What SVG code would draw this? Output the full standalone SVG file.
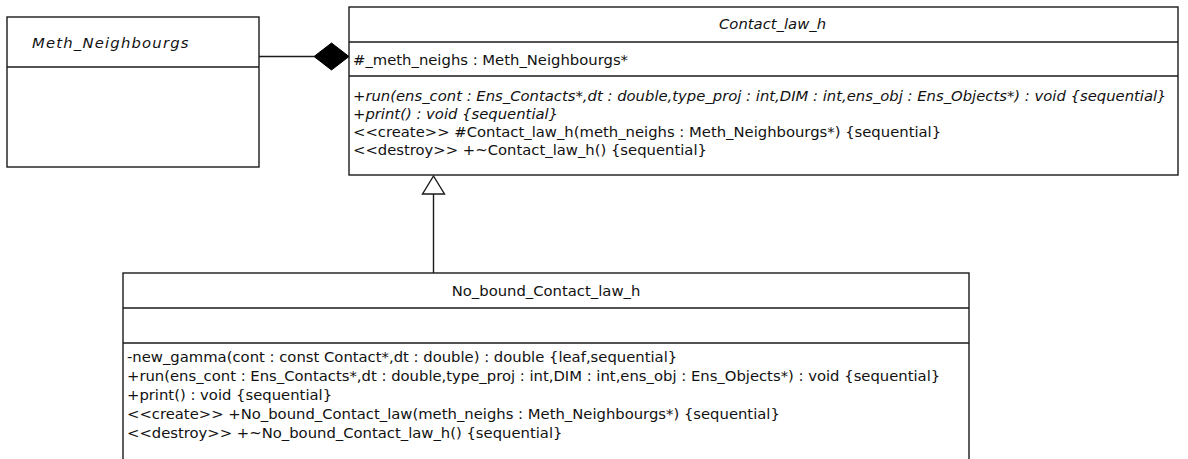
<svg xmlns="http://www.w3.org/2000/svg" width="1188" height="459" viewBox="0 0 1188 459">
<style>
.box{fill:#fff;stroke:#1a1a1a;stroke-width:1.4}
.div{stroke:#1a1a1a;stroke-width:1.4}
.t{font-family:"DejaVu Sans",sans-serif;font-size:14.8px;fill:#111}
.i{font-style:italic}
.c{text-anchor:middle}
.conn{stroke:#1a1a1a;stroke-width:1.4;fill:none}
</style>
<rect width="1188" height="459" fill="#fff"/>
<g id="meth_neighbourgs">
<rect class="box" x="7" y="17" width="252" height="150"/>
<line class="div" x1="7" y1="67" x2="259" y2="67"/>
<text class="t i" x="32" y="48" style="letter-spacing:1.2px">Meth_Neighbourgs</text>
</g>
<g id="contact_law_h">
<rect class="box" x="349" y="7" width="829" height="168"/>
<line class="div" x1="349" y1="42" x2="1178" y2="42"/>
<line class="div" x1="349" y1="76" x2="1178" y2="76"/>
<text class="t i" x="719" y="29">Contact_law_h</text>
<text class="t" x="353" y="65">#_meth_neighs : Meth_Neighbourgs*</text>
<text class="t i" x="353" y="101">+run(ens_cont : Ens_Contacts*,dt : double,type_proj : int,DIM : int,ens_obj : Ens_Objects*) : void {sequential}</text>
<text class="t i" x="353" y="119">+print() : void {sequential}</text>
<text class="t" x="353" y="137">&lt;&lt;create&gt;&gt; #Contact_law_h(meth_neighs : Meth_Neighbourgs*) {sequential}</text>
<text class="t" x="353" y="155">&lt;&lt;destroy&gt;&gt; +~Contact_law_h() {sequential}</text>
</g>
<g id="no_bound_contact_law_h">
<rect class="box" x="123" y="273" width="846" height="200"/>
<line class="div" x1="123" y1="308" x2="969" y2="308"/>
<line class="div" x1="123" y1="343" x2="969" y2="343"/>
<text class="t c" x="546" y="296">No_bound_Contact_law_h</text>
<text class="t" x="127" y="362">-new_gamma(cont : const Contact*,dt : double) : double {leaf,sequential}</text>
<text class="t" x="127" y="381">+run(ens_cont : Ens_Contacts*,dt : double,type_proj : int,DIM : int,ens_obj : Ens_Objects*) : void {sequential}</text>
<text class="t" x="127" y="400">+print() : void {sequential}</text>
<text class="t" x="127" y="419">&lt;&lt;create&gt;&gt; +No_bound_Contact_law(meth_neighs : Meth_Neighbourgs*) {sequential}</text>
<text class="t" x="127" y="438">&lt;&lt;destroy&gt;&gt; +~No_bound_Contact_law_h() {sequential}</text>
</g>
<g id="connectors">
<line class="conn" x1="259" y1="56.5" x2="314" y2="56.5"/>
<polygon points="314,56.5 331.5,43 349,56.5 331.5,70" fill="#000" stroke="#000" stroke-width="1"/>
<line class="conn" x1="433.5" y1="194" x2="433.5" y2="273"/>
<polygon points="433.5,176 444.5,194 422.5,194" fill="#fff" stroke="#1a1a1a" stroke-width="1.4"/>
</g>
</svg>
